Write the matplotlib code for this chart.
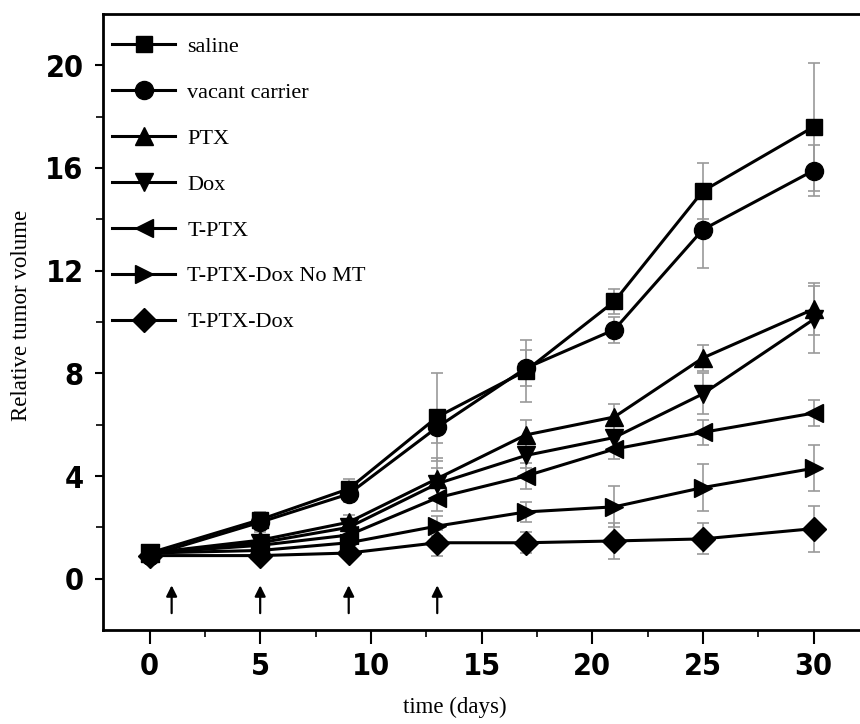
import matplotlib
matplotlib.use("Agg")
import matplotlib.pyplot as plt
from matplotlib import font_manager
import numpy as np

days = [0, 5, 9, 13, 17, 21, 25, 30]
labels = ["saline", "vacant carrier", "PTX", "Dox", "T-PTX", "T-PTX-Dox No MT", "T-PTX-Dox"]
saline = [1.0, 2.3, 3.5, 6.3, 8.1, 10.8, 15.1, 17.6]
vacant = [0.9, 2.2, 3.3, 5.9, 8.2, 9.7, 13.6, 15.9]
ptx = [1.0, 1.5, 2.2, 3.9, 5.6, 6.3, 8.6, 10.5]
dox = [1.0, 1.4, 2.0, 3.7, 4.8, 5.5, 7.2, 10.1]
tptx = [1.0, 1.3, 1.7, 3.15, 4.0, 5.05, 5.7, 6.45]
nomt = [1.0, 1.1, 1.4, 2.05, 2.6, 2.8, 3.55, 4.3]
tpd = [0.9, 0.9, 1.0, 1.4, 1.4, 1.47, 1.55, 1.95]
err_saline = [0.2, 0.3, 0.4, 1.7, 1.2, 0.5, 1.1, 2.5]
err_vacant = [0.2, 0.3, 0.3, 0.6, 0.7, 0.5, 1.5, 1.0]
err_ptx = [0.1, 0.3, 0.3, 0.8, 0.6, 0.5, 0.5, 1.0]
err_dox = [0.1, 0.2, 0.3, 0.6, 0.5, 0.5, 0.8, 1.3]
err_tptx = [0.1, 0.2, 0.3, 0.5, 0.5, 0.4, 0.5, 0.5]
err_nomt = [0.1, 0.2, 0.2, 0.4, 0.4, 0.8, 0.9, 0.9]
err_tpd = [0.1, 0.2, 0.2, 0.5, 0.4, 0.7, 0.6, 0.9]
arrow_days = [1, 5, 9, 13]

series = [saline, vacant, ptx, dox, tptx, nomt, tpd]
errs = [err_saline, err_vacant, err_ptx, err_dox, err_tptx, err_nomt, err_tpd]
markers = ["s", "o", "^", "v", "<", ">", "D"]
msizes = [12, 13, 13, 13, 13, 13, 12]

cond = font_manager.FontProperties(family="DejaVu Sans", weight="bold", stretch="condensed")
if "Condensed" in font_manager.findfont(cond):
    tick_font = dict(family="DejaVu Sans", weight="bold", stretch="condensed", size=22)
else:
    tick_font = dict(family="Liberation Sans", weight="bold", size=22)

fig = plt.figure(figsize=(8.6, 7.24), dpi=100)
ax = fig.add_axes([0.1198, 0.1298, 0.8802, 0.8509])

for y, e, m, ms, lab in zip(series, errs, markers, msizes, labels):
    ax.errorbar(days, y, yerr=e, fmt="none", ecolor="#9a9a9a", elinewidth=1.2,
                capsize=4, capthick=1.2, linestyle=":", zorder=1)
    ax.plot(days, y, color="black", marker=m, markersize=ms, linewidth=2.2,
            label=lab, zorder=3)

for d in arrow_days:
    ax.annotate("", xy=(d, -0.15), xytext=(d, -1.45),
                arrowprops=dict(arrowstyle="-|>", color="black", lw=1.6,
                                mutation_scale=16))

ax.set_xlim(-2.1, 32.1)
ax.set_ylim(-2.0, 22.0)
ax.set_xticks([0, 5, 10, 15, 20, 25, 30])
ax.set_xticks(np.arange(2.5, 32, 5), minor=True)
ax.set_yticks([0, 4, 8, 12, 16, 20])
ax.set_yticks([2, 6, 10, 14, 18], minor=True)
ax.tick_params(axis="x", which="major", direction="out", length=10, width=1.5, pad=6)
ax.tick_params(axis="y", which="major", direction="out", length=6, width=1.5, pad=8)
ax.tick_params(which="minor", direction="out", length=5, width=1.2)
for lab in ax.get_xticklabels() + ax.get_yticklabels():
    lab.set_fontproperties(font_manager.FontProperties(**tick_font))
ax.spines["right"].set_visible(False)
for s in ["left", "bottom", "top"]:
    ax.spines[s].set_linewidth(2.0)

ax.set_xlabel("time (days)", fontfamily="Liberation Serif", fontsize=16.5)
ax.set_ylabel("Relative tumor volume", fontfamily="Liberation Serif", fontsize=16.5)
ax.xaxis.set_label_coords(0.465, -0.108)
ax.yaxis.set_label_coords(-0.094, 0.51)

ax.legend(loc="upper left", frameon=False, prop={"family": "Liberation Serif", "size": 16},
          handlelength=2.85, labelspacing=1.14, borderaxespad=0.0, borderpad=0.4,
          handletextpad=0.55, bbox_to_anchor=(0.0, 0.978))

fig.savefig("out.png", dpi=100)
